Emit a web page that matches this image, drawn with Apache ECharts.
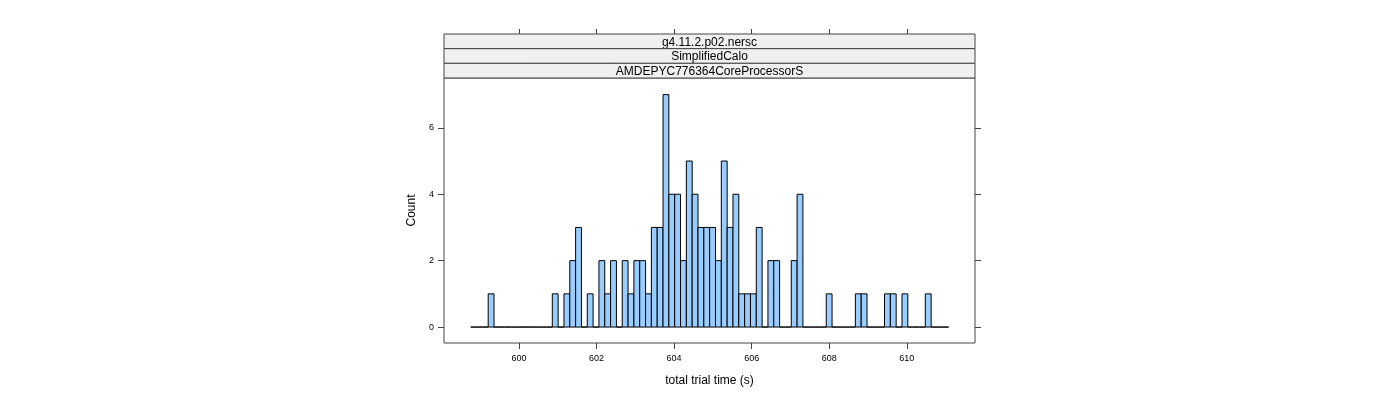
<!DOCTYPE html>
<html>
<head>
<meta charset="utf-8">
<script src="https://cdn.jsdelivr.net/npm/echarts@6/dist/echarts.min.js"></script>
<style>
  html, body { margin: 0; padding: 0; background: #fff; }
  #main { width: 1400px; height: 400px; }
</style>
</head>
<body>
<div id="main"></div>
<script>
// histogram breaks (equal width bins) and counts per bin
const breakStart = 598.755;
const binWidth = 0.1503;
const counts = [
  0, 0, 0, 1, 0, 0, 0, 0, 0, 0,
  0, 0, 0, 0, 1, 0, 1, 2, 3, 0,
  1, 0, 2, 1, 2, 0, 2, 1, 2, 2,
  1, 3, 3, 7, 4, 4, 2, 5, 4, 3,
  3, 3, 2, 5, 3, 4, 1, 1, 1, 3,
  0, 2, 2, 0, 0, 2, 4, 0, 0, 0,
  0, 1, 0, 0, 0, 0, 1, 1, 0, 0,
  0, 1, 1, 0, 1, 0, 0, 0, 1, 0,
  0, 0
];
const xTicks = [600, 602, 604, 606, 608, 610];
const yTicks = [0, 2, 4, 6];
const stripLabels = ['g4.11.2.p02.nersc', 'SimplifiedCalo', 'AMDEPYC776364CoreProcessorS'];

const xMin = 598.066, xMax = 611.76;
const yMin = -0.48, yMax = 7.5;

const font = 'Liberation Sans, Arial, sans-serif';
const lineCol = '#444';

const binData = counts.map((c, i) => [breakStart + i * binWidth, breakStart + (i + 1) * binWidth, c]);

const chart = echarts.init(document.getElementById('main'));

// strip boxes above the panel
const stripTop = 34, stripH = 14.67, panelLeft = 444, panelW = 531;
const stripGraphics = [];
stripLabels.forEach((t, i) => {
  stripGraphics.push({
    type: 'rect',
    shape: { x: panelLeft, y: stripTop + i * stripH, width: panelW, height: stripH },
    style: { fill: '#f0f0f0', stroke: lineCol, lineWidth: 1 }
  });
  stripGraphics.push({
    type: 'text',
    x: panelLeft + panelW / 2,
    y: stripTop + i * stripH + stripH / 2 + 1,
    style: { text: t, fill: '#000', font: '12px ' + font, align: 'center', verticalAlign: 'middle' }
  });
});

chart.setOption({
  animation: false,
  grid: {
    left: 444, right: 425, top: 78, bottom: 57,
    show: true, borderColor: lineCol, borderWidth: 1, backgroundColor: 'transparent'
  },
  graphic: stripGraphics,
  xAxis: [{
    type: 'value', min: xMin, max: xMax,
    name: 'total trial time (s)', nameLocation: 'middle', nameGap: 32,
    nameTextStyle: { fontSize: 12, color: '#000', fontFamily: font },
    axisLine: { show: false, onZero: false },
    splitLine: { show: false },
    axisTick: { show: true, length: 6, inside: false, customValues: xTicks, lineStyle: { color: lineCol } },
    axisLabel: { customValues: xTicks, fontSize: 9, color: '#000', fontFamily: font, margin: 11 }
  }, {
    type: 'value', min: xMin, max: xMax, position: 'top', offset: 44,
    axisLine: { show: false, onZero: false },
    splitLine: { show: false },
    axisTick: { show: true, length: 5, customValues: xTicks, lineStyle: { color: lineCol } },
    axisLabel: { show: false }
  }],
  yAxis: [{
    type: 'value', min: yMin, max: yMax,
    name: 'Count', nameLocation: 'middle', nameGap: 26, nameRotate: 90,
    nameTextStyle: { fontSize: 12, color: '#000', fontFamily: font },
    axisLine: { show: false, onZero: false },
    splitLine: { show: false },
    axisTick: { show: true, length: 6, customValues: yTicks, lineStyle: { color: lineCol } },
    axisLabel: { customValues: yTicks, fontSize: 9, color: '#000', fontFamily: font, margin: 10 }
  }, {
    type: 'value', min: yMin, max: yMax, position: 'right',
    axisLine: { show: false, onZero: false },
    splitLine: { show: false },
    axisTick: { show: true, length: 6, customValues: yTicks, lineStyle: { color: lineCol } },
    axisLabel: { show: false }
  }],
  series: [{
    type: 'custom',
    xAxisIndex: 0, yAxisIndex: 0,
    data: binData,
    encode: { x: [0, 1], y: 2 },
    renderItem: function (params, api) {
      const p0 = api.coord([api.value(0), api.value(2)]);
      const p1 = api.coord([api.value(1), 0]);
      return {
        type: 'rect',
        shape: { x: p0[0], y: p0[1], width: p1[0] - p0[0], height: p1[1] - p0[1] },
        style: { fill: '#99ccff', stroke: '#000', lineWidth: 1 }
      };
    }
  }]
});
</script>
</body>
</html>
